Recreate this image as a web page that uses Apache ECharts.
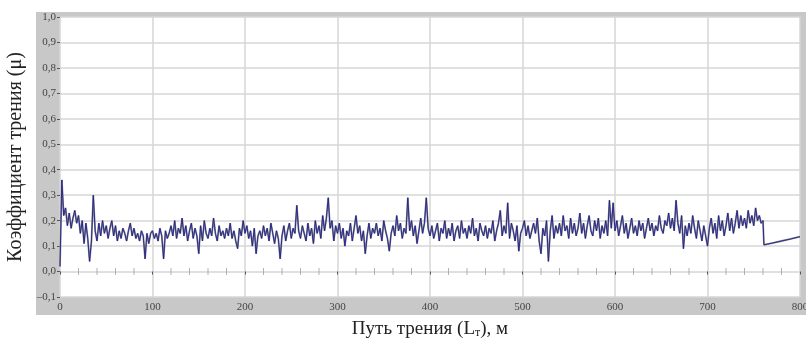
<!DOCTYPE html>
<html>
<head>
<meta charset="utf-8">
<script src="https://cdn.jsdelivr.net/npm/echarts@6/dist/echarts.min.js"></script>
<style>
	html, body { margin: 0; padding: 0; background: #fff; }
	#chart { width: 806px; height: 340px; }
</style>
</head>
<body>
<div id="chart"></div>
<script>
	//путь трения: шаг 2 м, от 0 до 760 м
	var pathStep = 2;
	var frictionMain = [
		0.02, 0.36, 0.22, 0.25, 0.18, 0.23, 0.17, 0.21, 0.24, 0.19,
		0.22, 0.15, 0.20, 0.11, 0.19, 0.13, 0.04, 0.12, 0.30, 0.16,
		0.12, 0.19, 0.14, 0.20, 0.15, 0.18, 0.13, 0.17, 0.20, 0.14,
		0.18, 0.12, 0.16, 0.13, 0.17, 0.15, 0.12, 0.16, 0.19, 0.14,
		0.17, 0.13, 0.15, 0.12, 0.16, 0.14, 0.05, 0.15, 0.11, 0.15,
		0.16, 0.13, 0.15, 0.12, 0.17, 0.14, 0.05, 0.16, 0.13, 0.15,
		0.18, 0.14, 0.20, 0.13, 0.17, 0.15, 0.21, 0.14, 0.18, 0.12,
		0.16, 0.19, 0.13, 0.17, 0.14, 0.07, 0.18, 0.12, 0.20, 0.15,
		0.13, 0.17, 0.14, 0.21, 0.15, 0.12, 0.18, 0.14, 0.16, 0.13,
		0.17, 0.14, 0.19, 0.13, 0.16, 0.12, 0.09, 0.17, 0.14, 0.20,
		0.15, 0.18, 0.13, 0.16, 0.10, 0.17, 0.07, 0.14, 0.16, 0.13,
		0.18, 0.14, 0.17, 0.12, 0.19, 0.15, 0.11, 0.16, 0.13, 0.05,
		0.14, 0.18, 0.12, 0.16, 0.19, 0.13, 0.17, 0.15, 0.26, 0.16,
		0.13, 0.18, 0.15, 0.12, 0.19, 0.14, 0.17, 0.11, 0.20, 0.15,
		0.18, 0.13, 0.22, 0.16, 0.21, 0.29, 0.17, 0.20, 0.12, 0.18,
		0.15, 0.19, 0.13, 0.17, 0.10, 0.16, 0.14, 0.19, 0.12, 0.17,
		0.22, 0.15, 0.18, 0.12, 0.16, 0.07, 0.14, 0.19, 0.13, 0.17,
		0.15, 0.19, 0.14, 0.17, 0.12, 0.20, 0.16, 0.13, 0.08, 0.15,
		0.18, 0.14, 0.22, 0.16, 0.19, 0.13, 0.17, 0.15, 0.29, 0.16,
		0.20, 0.14, 0.18, 0.11, 0.16, 0.21, 0.15, 0.19, 0.29, 0.17,
		0.14, 0.18, 0.13, 0.16, 0.19, 0.12, 0.17, 0.15, 0.20, 0.13,
		0.17, 0.14, 0.19, 0.12, 0.16, 0.18, 0.13, 0.20, 0.15, 0.17,
		0.13, 0.18, 0.15, 0.21, 0.14, 0.17, 0.12, 0.19, 0.16, 0.14,
		0.18, 0.13, 0.17, 0.15, 0.20, 0.12, 0.16, 0.19, 0.24, 0.14,
		0.18, 0.15, 0.27, 0.13, 0.19, 0.16, 0.12, 0.18, 0.08, 0.15,
		0.17, 0.20, 0.14, 0.18, 0.13, 0.16, 0.19, 0.15, 0.21, 0.12,
		0.07, 0.17, 0.14, 0.20, 0.04, 0.16, 0.22, 0.13, 0.18, 0.15,
		0.19, 0.14, 0.22, 0.16, 0.18, 0.13, 0.21, 0.15, 0.19, 0.14,
		0.17, 0.23, 0.15, 0.19, 0.13, 0.18, 0.22, 0.16, 0.14, 0.20,
		0.16, 0.21, 0.13, 0.18, 0.15, 0.20, 0.14, 0.28, 0.17, 0.27,
		0.16, 0.20, 0.14, 0.18, 0.22, 0.15, 0.19, 0.13, 0.17, 0.21,
		0.15, 0.18, 0.14, 0.20, 0.16, 0.19, 0.13, 0.17, 0.21, 0.16,
		0.19, 0.14, 0.18, 0.16, 0.22, 0.17, 0.15, 0.20, 0.18, 0.23,
		0.17, 0.21, 0.16, 0.28, 0.19, 0.15, 0.22, 0.09, 0.18, 0.14,
		0.19, 0.15, 0.22, 0.17, 0.13, 0.20, 0.16, 0.12, 0.18, 0.14,
		0.10, 0.17, 0.21, 0.15, 0.19, 0.13, 0.22, 0.16, 0.20, 0.14,
		0.18, 0.23, 0.16, 0.21, 0.15, 0.19, 0.24, 0.17, 0.22, 0.18,
		0.21, 0.17, 0.24, 0.19, 0.22, 0.18, 0.25, 0.20, 0.22, 0.19,
		0.20
	];
	//хвост после обрыва
	var tailPath = [761, 770, 780, 790, 800];
	var tailFriction = [0.105, 0.112, 0.120, 0.128, 0.137];
	//метки на линии 0,0
	var markPath = [20, 40, 60, 80, 120, 140, 160, 180, 220, 240, 260, 280, 320, 340, 360, 380,
		420, 440, 460, 480, 520, 540, 560, 580, 620, 640, 660, 680, 720, 740, 760, 780];

	var lineData = [];
	for(var a = 0; a < frictionMain.length; a++) {
		lineData.push([a * pathStep, frictionMain[a]]);
	}
	for(var b = 0; b < tailPath.length; b++) {
		lineData.push([tailPath[b], tailFriction[b]]);
	}
	var markData = [];
	for(var c = 0; c < markPath.length; c++) {
		markData.push([markPath[c], 0]);
	}

	var serif = '"Liberation Serif", "DejaVu Serif", serif';
	var gridColor = '#d6d6d6';

	var option = {
		animation: false,
		backgroundColor: '#fff',
		graphic: [{
			type: 'rect',
			z: -10,
			shape: { x: 36, y: 12, width: 770, height: 303 },
			style: { fill: '#c8c8c8' }
		}],
		grid: {
			show: true,
			backgroundColor: '#fff',
			borderWidth: 0,
			outerBoundsMode: 'none',
			containLabel: false,
			left: 60,
			right: 6,
			top: 17,
			bottom: 43
		},
		xAxis: {
			type: 'value',
			min: 0,
			max: 800,
			interval: 100,
			name: 'Путь трения (L{sub|т}), м',
			nameLocation: 'middle',
			nameGap: 22,
			nameTextStyle: {
				fontFamily: serif,
				fontSize: 19,
				color: '#222',
				rich: {
					sub: { fontFamily: serif, fontSize: 12, color: '#222', verticalAlign: 'bottom', padding: [8, 0, 0, 0] }
				}
			},
			axisLine: { show: false },
			axisTick: { show: true, length: 3, lineStyle: { color: '#555' } },
			axisLabel: { fontFamily: serif, fontSize: 11, color: '#444', margin: 5 },
			splitLine: { show: true, lineStyle: { color: gridColor, width: 1.5 } }
		},
		yAxis: {
			type: 'value',
			min: -0.1,
			max: 1.0,
			interval: 0.1,
			name: 'Коэффициент трения (μ)',
			nameLocation: 'middle',
			nameRotate: 90,
			nameGap: 30,
			nameTextStyle: { fontFamily: serif, fontSize: 20, color: '#222' },
			axisLine: { show: false },
			axisTick: { show: true, length: 3, lineStyle: { color: '#555' } },
			axisLabel: {
				fontFamily: serif,
				fontSize: 11,
				color: '#444',
				margin: 4,
				formatter: function(v) {
					return v.toFixed(1).replace('.', ',').replace('-', '–');
				}
			},
			splitLine: { show: true, lineStyle: { color: gridColor, width: 1.5 } }
		},
		series: [{
			name: 'метки',
			type: 'scatter',
			silent: true,
			symbol: 'rect',
			symbolSize: [1, 7],
			itemStyle: { color: '#a0a0a0' },
			data: markData
		}, {
			//серая подложка
			name: 'Коэффициент трения (фон)',
			type: 'line',
			showSymbol: false,
			symbol: 'none',
			silent: true,
			lineStyle: { color: '#8c8c8c', width: 1.8 },
			data: lineData
		}, {
			name: 'Коэффициент трения',
			type: 'line',
			showSymbol: false,
			symbol: 'none',
			silent: true,
			lineStyle: { color: '#1f1f8f', width: 0.9 },
			data: lineData
		}]
	};

	var myChart = echarts.init(document.getElementById('chart'));
	myChart.setOption(option);
</script>
</body>
</html>
